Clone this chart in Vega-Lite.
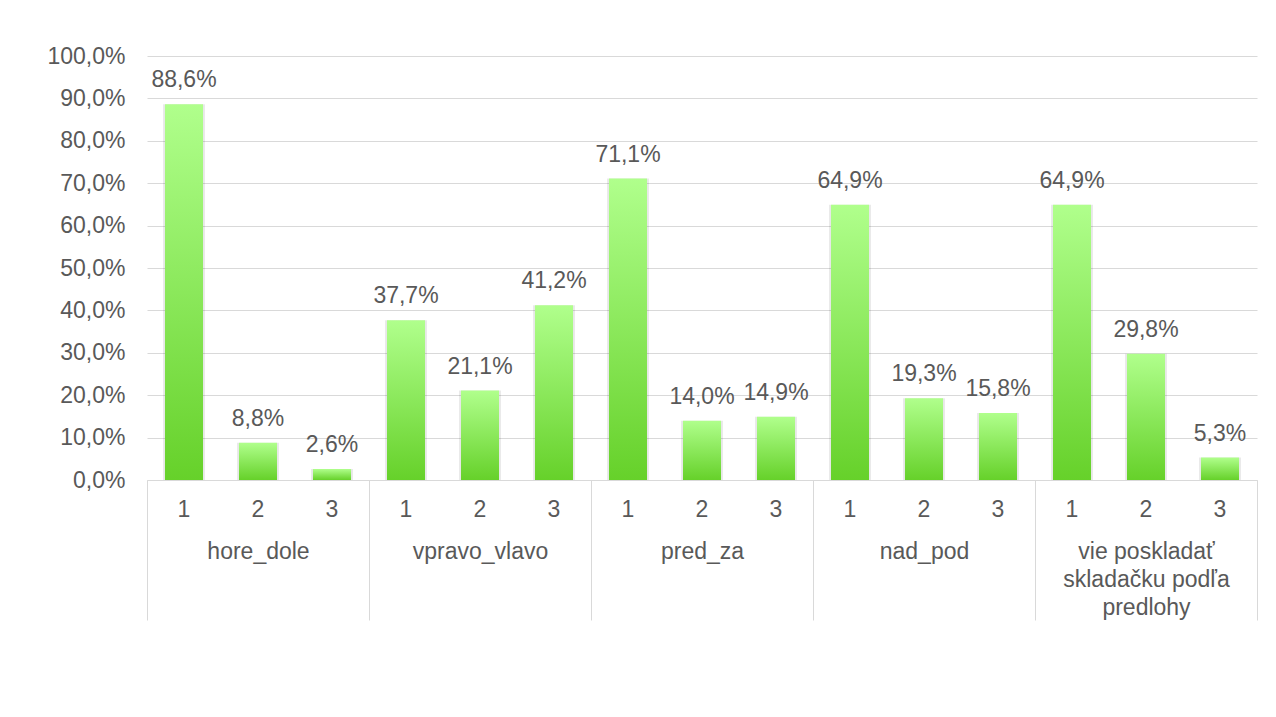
{
  "$schema": "https://vega.github.io/schema/vega-lite/v6.json",
  "autosize": "none",
  "padding": {"left": 147, "top": 56, "right": 19, "bottom": 237},
  "width": 1110,
  "height": 424,
  "background": "white",
  "config": {
    "locale": {"number": {"decimal": ",", "thousands": "\u00a0", "grouping": [3], "currency": ["", " €"]}},
    "view": {"stroke": null},
    "font": "Liberation Sans",
    "axis": {"labelFont": "Liberation Sans", "labelFontSize": 23, "labelColor": "#595959"}
  },
  "data": {
    "values": [
      {"group": "hore_dole", "sub": "1", "key": "hore_dole|1", "value": 0.886},
      {"group": "hore_dole", "sub": "2", "key": "hore_dole|2", "value": 0.088},
      {"group": "hore_dole", "sub": "3", "key": "hore_dole|3", "value": 0.026},
      {"group": "vpravo_vlavo", "sub": "1", "key": "vpravo_vlavo|1", "value": 0.377},
      {"group": "vpravo_vlavo", "sub": "2", "key": "vpravo_vlavo|2", "value": 0.211},
      {"group": "vpravo_vlavo", "sub": "3", "key": "vpravo_vlavo|3", "value": 0.412},
      {"group": "pred_za", "sub": "1", "key": "pred_za|1", "value": 0.711},
      {"group": "pred_za", "sub": "2", "key": "pred_za|2", "value": 0.140},
      {"group": "pred_za", "sub": "3", "key": "pred_za|3", "value": 0.149},
      {"group": "nad_pod", "sub": "1", "key": "nad_pod|1", "value": 0.649},
      {"group": "nad_pod", "sub": "2", "key": "nad_pod|2", "value": 0.193},
      {"group": "nad_pod", "sub": "3", "key": "nad_pod|3", "value": 0.158},
      {"group": "vie poskladať skladačku podľa predlohy", "sub": "1", "key": "vie|1", "value": 0.649},
      {"group": "vie poskladať skladačku podľa predlohy", "sub": "2", "key": "vie|2", "value": 0.298},
      {"group": "vie poskladať skladačku podľa predlohy", "sub": "3", "key": "vie|3", "value": 0.053}
    ]
  },
  "layer": [
    {
      "encoding": {
        "x": {
          "field": "key", "type": "nominal", "sort": null,
          "scale": {"paddingInner": 0.486, "paddingOuter": 0.243},
          "axis": {"orient": "bottom", "title": null, "labelExpr": "split(datum.label, '|')[1]", "labelAngle": 0, "ticks": false, "domainColor": "#d9d9d9", "labelPadding": 18, "labelBaseline": "top"}
        },
        "y": {
          "field": "value", "type": "quantitative",
          "scale": {"domain": [0, 1]},
          "axis": {"title": null, "format": ".1%", "values": [0, 0.1, 0.2, 0.3, 0.4, 0.5, 0.6, 0.7, 0.8, 0.9, 1], "ticks": false, "domain": false, "gridColor": "#d9d9d9", "labelPadding": 22}
        }
      },
      "layer": [
        {"mark": {"type": "bar", "color": "#000000", "opacity": 0.09, "width": {"band": 1.1}}},
        {"mark": {"type": "bar", "color": {"gradient": "linear", "x1": 0, "y1": 0, "x2": 0, "y2": 1, "stops": [{"offset": 0, "color": "#b0ff8c"}, {"offset": 1, "color": "#66d12a"}]}}},
        {"mark": {"type": "text", "dy": -17, "baseline": "alphabetic", "fontSize": 23, "font": "Liberation Sans", "color": "#595959"},
         "encoding": {"text": {"field": "value", "type": "quantitative", "format": ".1%"}}}
      ]
    },
    {
      "mark": {"type": "tick", "opacity": 0},
      "encoding": {
        "x": {
          "field": "group", "type": "nominal", "sort": null,
          "scale": {"paddingInner": 0, "paddingOuter": 0},
          "axis": {"orient": "bottom", "title": null, "tickBand": "extent", "tickSize": 140, "tickColor": "#d9d9d9", "domain": false, "labelAngle": 0, "labelPadding": -80, "labelBaseline": "top", "labelLineHeight": 28,
                   "labelExpr": "datum.label == 'vie poskladať skladačku podľa predlohy' ? ['vie poskladať', 'skladačku podľa', 'predlohy'] : datum.label"}
        }
      }
    }
  ],
  "resolve": {"scale": {"x": "independent"}, "axis": {"x": "independent"}}
}
